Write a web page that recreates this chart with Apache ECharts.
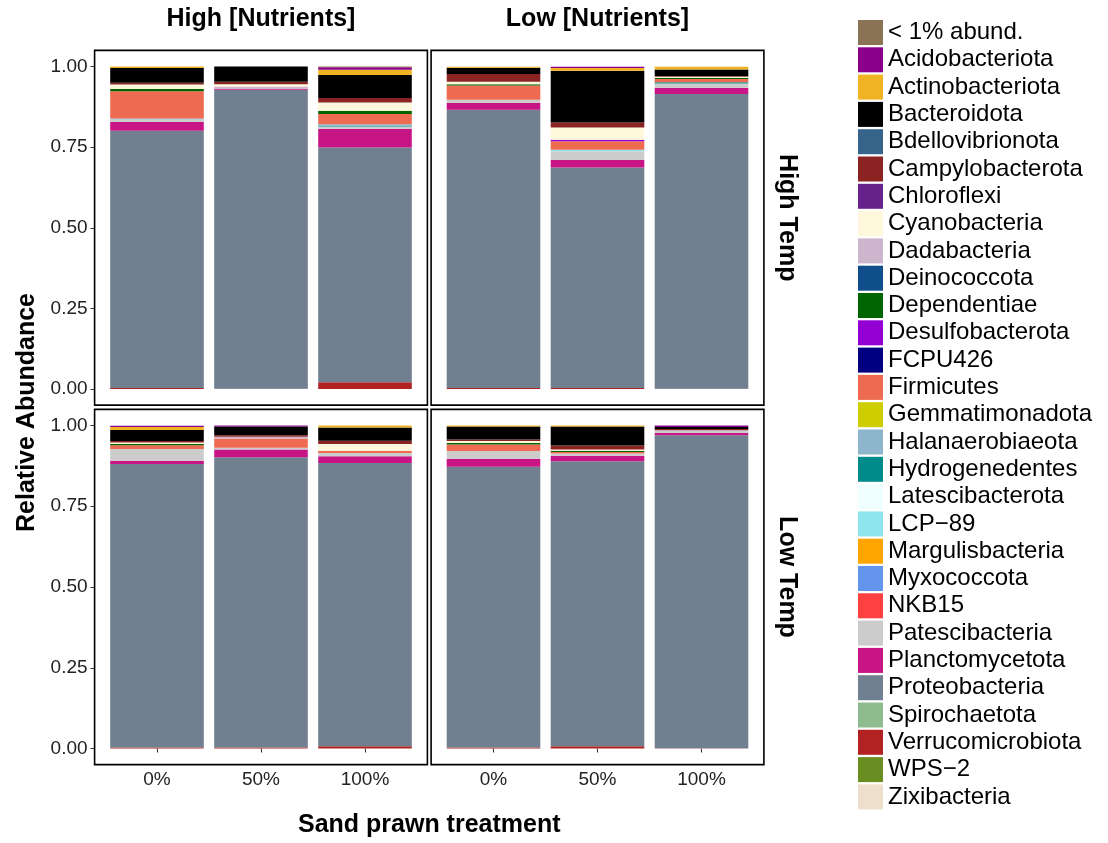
<!DOCTYPE html>
<html>
<head>
<meta charset="utf-8">
<script src="https://cdn.jsdelivr.net/npm/echarts@6/dist/echarts.min.js"></script>
<style>
html,body{margin:0;padding:0;background:#fff;}
#chart{width:1108px;height:843px;}
</style>
</head>
<body>
<div id="chart"></div>
<script>
// ---- data ----
const categories = ['0%', '50%', '100%'];
const yTicks = [0, 0.25, 0.5, 0.75, 1];
const nutrientLevels = ['High [Nutrients]', 'Low [Nutrients]'];
const tempLevels = ['High Temp', 'Low Temp'];
const xTitle = 'Sand prawn treatment';
const yTitle = 'Relative Abundance';

const taxa = ['< 1% abund.', 'Acidobacteriota', 'Actinobacteriota', 'Bacteroidota', 'Bdellovibrionota',
  'Campylobacterota', 'Chloroflexi', 'Cyanobacteria', 'Dadabacteria', 'Deinococcota', 'Dependentiae',
  'Desulfobacterota', 'FCPU426', 'Firmicutes', 'Gemmatimonadota', 'Halanaerobiaeota', 'Hydrogenedentes',
  'Latescibacterota', 'LCP\u221289', 'Margulisbacteria', 'Myxococcota', 'NKB15', 'Patescibacteria',
  'Planctomycetota', 'Proteobacteria', 'Spirochaetota', 'Verrucomicrobiota', 'WPS\u22122', 'Zixibacteria'];
const taxaColors = ['#8B7355', '#8B008B', '#F0B323', '#000000', '#36648B',
  '#8B2323', '#68228B', '#FFF8DC', '#CDB5CD', '#104E8B', '#006400',
  '#9400D3', '#000080', '#EE6A50', '#CDCD00', '#8DB6CD', '#008B8B',
  '#F0FFFF', '#8EE5EE', '#FFA500', '#6495ED', '#FF4040', '#CCCCCC',
  '#C71585', '#708090', '#8FBC8F', '#B22222', '#6B8E23', '#EEDFCC'];

// rows: [taxon, 0%, 50%, 100%]
const highNutHighTemp = [
  ['Verrucomicrobiota', 0.003, 0.001, 0.021],
  ['Proteobacteria', 0.798, 0.927, 0.728],
  ['Planctomycetota', 0.027, 0.003, 0.058],
  ['Patescibacteria', 0.008, 0, 0.007],
  ['Hydrogenedentes', 0, 0, 0.003],
  ['Halanaerobiaeota', 0.003, 0, 0.004],
  ['Firmicutes', 0.084, 0, 0.032],
  ['Dependentiae', 0.007, 0, 0.010],
  ['Dadabacteria', 0, 0.007, 0],
  ['Cyanobacteria', 0.014, 0.007, 0.025],
  ['Campylobacterota', 0.006, 0.008, 0.014],
  ['Bacteroidota', 0.045, 0.047, 0.072],
  ['Actinobacteriota', 0.005, 0, 0.016],
  ['Acidobacteriota', 0, 0, 0.008],
  ['< 1% abund.', 0, 0, 0.002]
];
const lowNutHighTemp = [
  ['Verrucomicrobiota', 0.003, 0.003, 0.001],
  ['Proteobacteria', 0.863, 0.684, 0.914],
  ['Planctomycetota', 0.021, 0.023, 0.019],
  ['Patescibacteria', 0.010, 0.027, 0.013],
  ['LCP\u221289', 0, 0.005, 0],
  ['Hydrogenedentes', 0, 0, 0.004],
  ['Firmicutes', 0.044, 0.026, 0.010],
  ['Desulfobacterota', 0, 0.005, 0],
  ['Dependentiae', 0.004, 0, 0.003],
  ['Cyanobacteria', 0.008, 0.038, 0.004],
  ['Campylobacterota', 0.024, 0.015, 0.002],
  ['Bacteroidota', 0.019, 0.161, 0.021],
  ['Actinobacteriota', 0.003, 0.008, 0.008],
  ['Acidobacteriota', 0, 0.004, 0]
];
const highNutLowTemp = [
  ['Verrucomicrobiota', 0.003, 0.003, 0.007],
  ['Proteobacteria', 0.878, 0.899, 0.877],
  ['Planctomycetota', 0.010, 0.024, 0.021],
  ['Patescibacteria', 0.036, 0.005, 0.010],
  ['Firmicutes', 0.012, 0.029, 0.007],
  ['Dependentiae', 0.004, 0, 0],
  ['Dadabacteria', 0, 0.005, 0],
  ['Cyanobacteria', 0.004, 0, 0.021],
  ['Campylobacterota', 0.005, 0.005, 0.010],
  ['Bacteroidota', 0.034, 0.027, 0.041],
  ['Actinobacteriota', 0.009, 0, 0.006],
  ['Acidobacteriota', 0.004, 0.004, 0]
];
const lowNutLowTemp = [
  ['Verrucomicrobiota', 0.003, 0.007, 0.001],
  ['Proteobacteria', 0.869, 0.882, 0.969],
  ['Planctomycetota', 0.025, 0.017, 0.007],
  ['Patescibacteria', 0.024, 0.007, 0.008],
  ['Firmicutes', 0.020, 0.005, 0],
  ['Dependentiae', 0.005, 0.004, 0],
  ['Cyanobacteria', 0.006, 0.004, 0],
  ['Campylobacterota', 0.005, 0.012, 0.004],
  ['Bacteroidota', 0.040, 0.059, 0.006],
  ['Actinobacteriota', 0.004, 0.004, 0],
  ['Acidobacteriota', 0, 0, 0.005]
];

// ---- layout ----
const FONT = '"Liberation Sans", Arial, Helvetica, sans-serif';
const colLeft = [105, 441.5];
const gridW = 312;
const rowTop = [66.5, 425.5];
const rowH = [322.5, 323];
const xPad = gridW / 3 * 0.1;   // discrete expansion
const yPadFrac = 0.05;          // continuous expansion

const panels = [
  { rows: highNutHighTemp, r: 0, c: 0 },
  { rows: lowNutHighTemp, r: 0, c: 1 },
  { rows: highNutLowTemp, r: 1, c: 0 },
  { rows: lowNutLowTemp, r: 1, c: 1 }
];

const grids = [], xAxes = [], yAxes = [], series = [], graphics = [];
panels.forEach((p, i) => {
  const left = colLeft[p.c], top = rowTop[p.r], h = rowH[p.r];
  grids.push({ left: left, top: top, width: gridW, height: h });
  const bottomRow = p.r === 1, leftCol = p.c === 0;
  xAxes.push({
    type: 'category', gridIndex: i, data: categories, offset: h * yPadFrac,
    axisLine: { show: false },
    axisTick: { show: bottomRow, alignWithLabel: true, length: 4, lineStyle: { color: '#333', width: 1 } },
    axisLabel: { show: bottomRow, fontSize: 19, color: '#222', margin: 6, fontFamily: FONT },
    splitLine: { show: false }
  });
  yAxes.push({
    type: 'value', gridIndex: i, min: 0, max: 1, interval: 0.25, offset: xPad,
    axisLine: { show: false },
    axisTick: { show: leftCol, length: 4, lineStyle: { color: '#333', width: 1 } },
    axisLabel: { show: leftCol, fontSize: 19, color: '#222', margin: 7, fontFamily: FONT,
      formatter: v => (yTicks.indexOf(v) >= 0 ? v.toFixed(2) : '') },
    splitLine: { show: false }
  });
  // stack bottom -> top (reverse of legend order)
  for (let k = taxa.length - 1; k >= 0; k--) {
    const row = p.rows.find(rw => rw[0] === taxa[k]);
    const vals = row ? row.slice(1) : [0, 0, 0];
    series.push({
      type: 'bar', name: taxa[k], xAxisIndex: i, yAxisIndex: i, stack: 'panel' + i,
      barWidth: '90%', data: vals,
      itemStyle: { color: taxaColors[k] },
      emphasis: { disabled: true }
    });
  }
  // panel border
  graphics.push({
    type: 'rect', silent: true, z: 100,
    shape: { x: left - xPad, y: top - h * yPadFrac, width: gridW + 2 * xPad, height: h * (1 + 2 * yPadFrac) },
    style: { fill: 'none', stroke: '#000', lineWidth: 1.6 }
  });
});

// strip labels
nutrientLevels.forEach((t, c) => {
  graphics.push({
    type: 'text', x: colLeft[c] + gridW / 2, y: 19,
    style: { text: t, fill: '#000', font: 'bold 25px ' + FONT, align: 'center', verticalAlign: 'middle' }
  });
});
tempLevels.forEach((t, r) => {
  graphics.push({
    type: 'text', x: 787, y: rowTop[r] + rowH[r] / 2 - 10, rotation: -Math.PI / 2,
    style: { text: t, fill: '#000', font: 'bold 25px ' + FONT, align: 'center', verticalAlign: 'middle' }
  });
});
// axis titles
graphics.push({
  type: 'text', x: 27, y: (rowTop[0] - rowH[0] * yPadFrac + rowTop[1] + rowH[1] * (1 + yPadFrac)) / 2 + 5,
  rotation: Math.PI / 2,
  style: { text: yTitle, fill: '#000', font: 'bold 25px ' + FONT, align: 'center', verticalAlign: 'middle' }
});
graphics.push({
  type: 'text', x: (colLeft[0] - xPad + colLeft[1] + gridW + xPad) / 2, y: 825,
  style: { text: xTitle, fill: '#000', font: 'bold 25px ' + FONT, align: 'center', verticalAlign: 'middle' }
});

const chart = echarts.init(document.getElementById('chart'), null, { renderer: 'canvas' });
chart.setOption({
  animation: false,
  backgroundColor: '#fff',
  grid: grids,
  xAxis: xAxes,
  yAxis: yAxes,
  series: series,
  graphic: graphics,
  legend: {
    data: taxa.map(n => ({ name: n, icon: 'rect' })),
    orient: 'vertical', left: 853, top: 15,
    itemWidth: 25, itemHeight: 25, itemGap: 2.3,
    selectedMode: false,
    textStyle: { fontSize: 24, color: '#000', fontFamily: FONT, padding: [0, 0, 0, 0] }
  }
});
</script>
</body>
</html>
